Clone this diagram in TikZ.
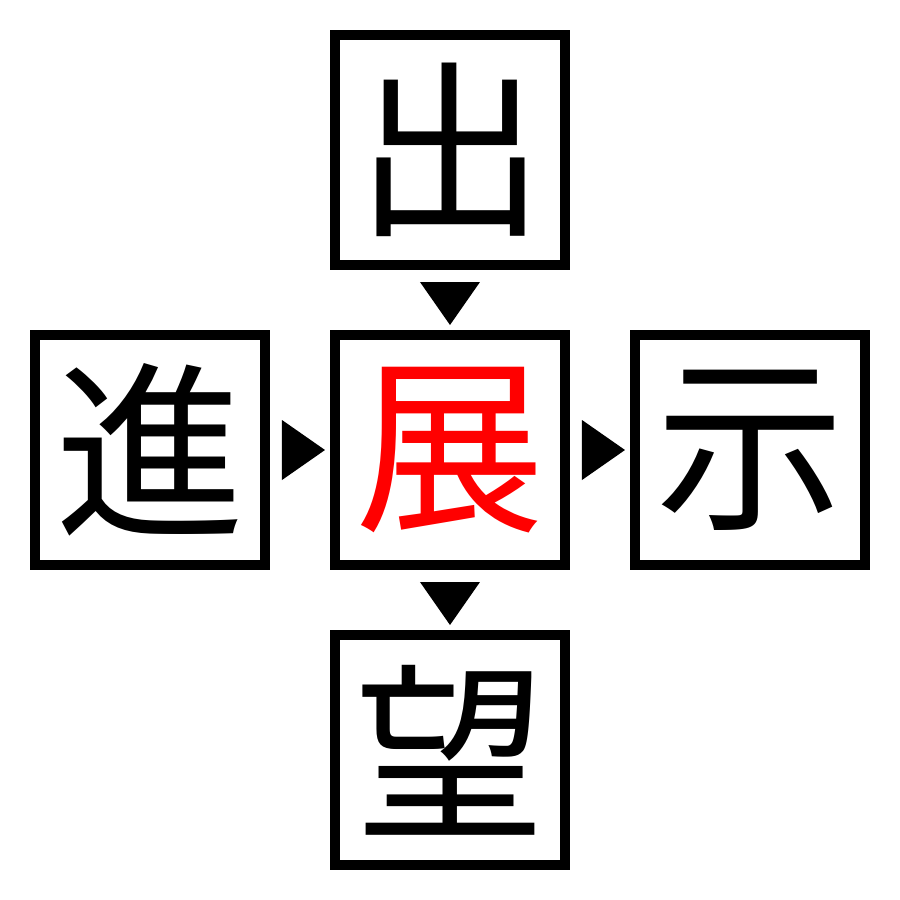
\documentclass[tikz,border=0pt]{standalone}
\usepackage{fontspec}
\newfontfamily\cjk{Noto Sans CJK JP}
\usetikzlibrary{positioning, calc}
\newcommand{\rt}[2]{% right pointing marker between two boxes
  \fill ($(#1.east)!0.5!(#2.west)$) ++(-0.18,0.3) -- ++(0.43,-0.3) -- ++(-0.43,-0.3) -- cycle;
  }
\newcommand{\dn}[2]{% down pointing marker between two boxes
  \fill ($(#1.south)!0.5!(#2.north)$) ++(-0.3,0.18) -- ++(0.6,0) -- ++(-0.3,-0.43) -- cycle;
  }

\begin{document}
\begin{tikzpicture}[
  kanji/.style={
    % The shape:
    rectangle,
    minimum size=2.3cm,
    inner sep=0pt,
    % The border:
    line width=1mm,
    draw=black,
    % Font
    font=\cjk\fontsize{54}{54}\selectfont
  },
  node distance=0.6cm
  ]

  \useasboundingbox (-4.5,-4.5) rectangle (4.5,4.5);

  % the five boxes
  \node (zhan) [kanji, text=red] at (0,0) {展};
  \node (chu) [kanji, above=of zhan] {出};
  \node (jin) [kanji, left=of zhan] {進};
  \node (shi) [kanji, right=of zhan] {示};
  \node (wang) [kanji, below=of zhan] {望};

  % markers between the boxes
  \rt{jin}{zhan}
  \rt{zhan}{shi}
  \dn{chu}{zhan}
  \dn{zhan}{wang}

\end{tikzpicture}
\end{document}
